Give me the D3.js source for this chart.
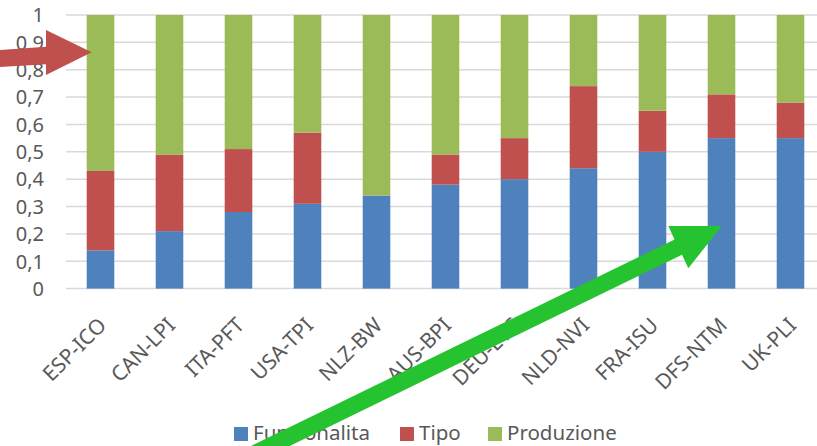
<!DOCTYPE html>
<html>
<head>
<meta charset="utf-8">
<script src="https://cdn.jsdelivr.net/npm/d3@7"></script>
<style>
  html, body { margin: 0; padding: 0; background: #fff; }
  svg { display: block; }
  text { font-family: "Noto Sans", "Open Sans", sans-serif; fill: #595959; }
</style>
</head>
<body>
<svg id="chart" width="817" height="446"></svg>
<script>
// Categories and the three stacked shares (each column sums to 1)
const categories = ["ESP-ICO", "CAN-LPI", "ITA-PFT", "USA-TPI", "NLZ-BW", "AUS-BPI",
                    "DEU-ETC", "NLD-NVI", "FRA-ISU", "DFS-NTM", "UK-PLI"];
const funzionalita = [0.14, 0.21, 0.28, 0.31, 0.34, 0.38, 0.40, 0.44, 0.50, 0.55, 0.55];
const tipo         = [0.29, 0.28, 0.23, 0.26, 0.00, 0.11, 0.15, 0.30, 0.15, 0.16, 0.13];
const produzione   = [0.57, 0.51, 0.49, 0.43, 0.66, 0.51, 0.45, 0.26, 0.35, 0.29, 0.32];
const yTicks = [0, 0.1, 0.2, 0.3, 0.4, 0.5, 0.6, 0.7, 0.8, 0.9, 1];

const seriesNames = ["Funzionalita", "Tipo", "Produzione"];
const seriesColors = ["#4F81BD", "#C0504D", "#9BBB59"];

const rows = categories.map((c, i) => ({
  cat: c, Funzionalita: funzionalita[i], Tipo: tipo[i], Produzione: produzione[i]
}));

const svg = d3.select("#chart");
const W = 817, H = 446;
const FONT = "\"Noto Sans\", \"Open Sans\", sans-serif";

const x = d3.scaleBand().domain(categories).range([66, 825])
  .paddingInner(0.6).paddingOuter(0.3);
const y = d3.scaleLinear().domain([0, 1]).range([288.6, 15]);

// Horizontal gridlines
svg.append("g").selectAll("line").data(yTicks).join("line")
  .attr("x1", 66).attr("x2", W)
  .attr("y1", d => y(d)).attr("y2", d => y(d))
  .attr("stroke", "#D9D9D9").attr("stroke-width", 1.5);

// Y axis labels
const fmt = d => d3.format(".1~f")(d).replace(".", ",");
const yAxis = d3.axisLeft(y).tickValues(yTicks).tickSize(0).tickPadding(0).tickFormat(fmt);
const gy = svg.append("g").attr("transform", "translate(44,0)").call(yAxis);
gy.select(".domain").remove();
gy.selectAll("text").attr("font-size", 20).attr("fill", "#595959")
  .attr("font-family", FONT)
  .attr("dy", "0.34em");

// Stacked bars
const stack = d3.stack().keys(seriesNames);
const layers = stack(rows);
svg.append("g").selectAll("g").data(layers).join("g")
  .attr("fill", (d, i) => seriesColors[i])
  .selectAll("rect").data(d => d).join("rect")
  .attr("x", d => x(d.data.cat))
  .attr("width", x.bandwidth())
  .attr("y", d => y(d[1]))
  .attr("height", d => Math.max(0, y(d[0]) - y(d[1])));

// Category axis labels (rotated)
const xAxis = d3.axisBottom(x).tickSize(0).tickPadding(0);
const gx = svg.append("g").attr("transform", "translate(0,288.6)").call(xAxis);
gx.select(".domain").remove();
gx.selectAll("text")
  .attr("font-size", 21).attr("fill", "#595959")
  .attr("font-family", FONT)
  .attr("text-anchor", "end")
  .attr("dy", 0).attr("y", 0)
  .attr("transform", "translate(7,38) rotate(-45)");

// Legend
const legendItems = [
  { name: "Funzionalita", sx: 234 },
  { name: "Tipo", sx: 400 },
  { name: "Produzione", sx: 488 }
];
const lg = svg.append("g").selectAll("g").data(legendItems).join("g")
  .attr("transform", d => `translate(${d.sx},427)`);
lg.append("rect").attr("width", 14).attr("height", 14)
  .attr("fill", (d, i) => seriesColors[i]);
lg.append("text").attr("x", 19).attr("y", 13)
  .attr("font-size", 20.5).attr("font-family", FONT).text(d => d.name);

// Annotation arrows drawn on top
const redArrow = [[0, 50], [46, 46.7], [46, 30], [91.7, 52.3], [46, 75], [46, 64.3], [0, 67]];
svg.append("polygon")
  .attr("points", redArrow.map(p => p.join(",")).join(" "))
  .attr("fill", "#C0504D");

const tip = [721.7, 226], hA = [668.3, 226], hB = [688.3, 268.3];
const mid = [(hA[0] + hB[0]) / 2, (hA[1] + hB[1]) / 2];
const len = Math.hypot(tip[0] - mid[0], tip[1] - mid[1]);
const u = [(tip[0] - mid[0]) / len, (tip[1] - mid[1]) / len];
const n = [-u[1], u[0]];
const w = 8.5, tail = 520;
const start = [mid[0] - tail * u[0], mid[1] - tail * u[1]];
const greenArrow = [
  [start[0] - w * n[0], start[1] - w * n[1]],
  [mid[0] - w * n[0], mid[1] - w * n[1]],
  hA, tip, hB,
  [mid[0] + w * n[0], mid[1] + w * n[1]],
  [start[0] + w * n[0], start[1] + w * n[1]]
];
svg.append("polygon")
  .attr("points", greenArrow.map(p => p.join(",")).join(" "))
  .attr("fill", "#26C330");
</script>
</body>
</html>
